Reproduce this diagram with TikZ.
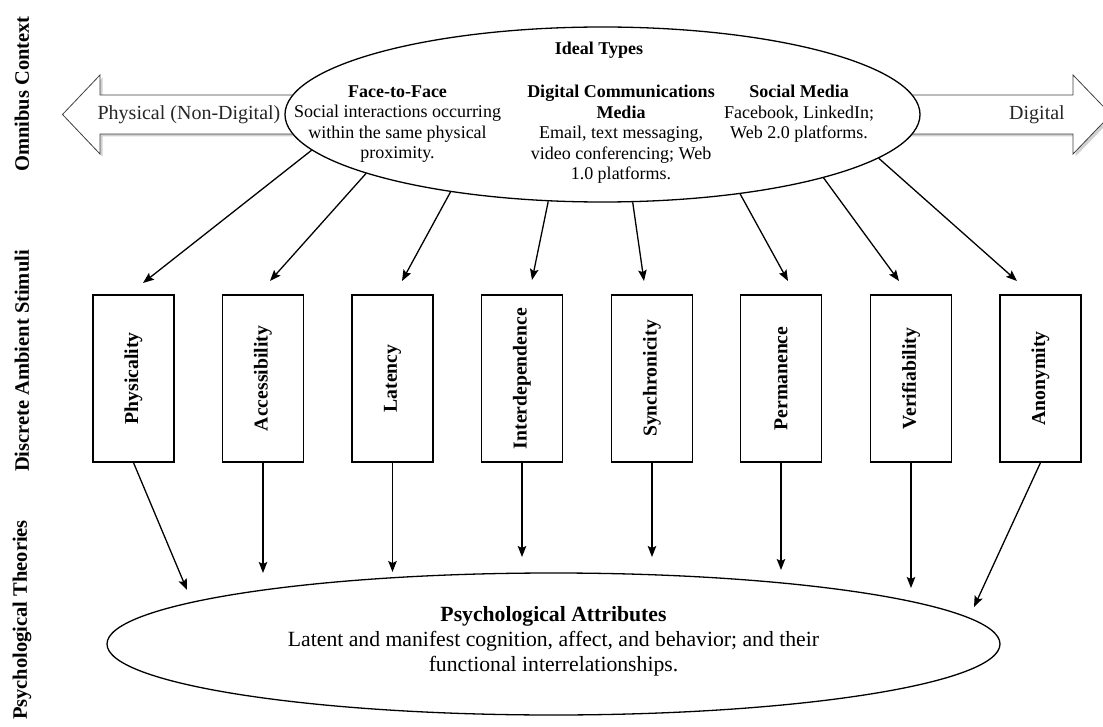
\documentclass[tikz,border=0pt]{standalone}
\usepackage{fontspec}
\setmainfont{Liberation Serif}
\usetikzlibrary{shapes.geometric,arrows.meta,shadows}
\begin{document}
\begin{tikzpicture}[x=1pt,y=-1pt,
  blockarrow/.style={draw=black!75, line width=0.8pt, fill=white,
    drop shadow={shadow xshift=2.5pt, shadow yshift=-2.5pt, fill=black!30, opacity=0.6}},
  ovalnode/.style={ellipse, draw, line width=1.3pt, fill=white, inner sep=0pt},
  toptext/.style={font=\fontsize{18}{20.5}\selectfont, align=center, inner sep=0pt},
  bottext/.style={font=\fontsize{21.7}{25}\selectfont, align=center, inner sep=0pt},
  arrowtext/.style={font=\fontsize{20}{22}\selectfont, text=black!85, inner sep=0pt},
  stimbox/.style={draw, line width=1.3pt, fill=white, minimum width=81pt, minimum height=167pt,
    inner sep=0pt, font=\fontsize{19.7}{22}\selectfont\bfseries},
  sidelabel/.style={rotate=90, font=\fontsize{20.5}{22}\selectfont\bfseries, inner sep=0pt},
  arr/.style={line width=1.3pt, -{Stealth[length=11pt,width=8.5pt,inset=2pt]}}
]
\useasboundingbox (0,0) rectangle (1103,727);
\clip (0,0) rectangle (1103,727);

% side labels
\node[sidelabel] (lblctx) at (22,94) {Omnibus Context};
\node[sidelabel] (lblstim) at (22,361) {Discrete Ambient Stimuli};
\node[sidelabel] (lblpsy) at (22,620) {Psychological Theories};

% block arrows
\path[blockarrow] (100,95) -- (420,95) -- (420,134) -- (100,134) -- (100,154) -- (62.5,114.5) -- (100,75) -- cycle;
\path[blockarrow] (780,95) -- (1073,95) -- (1073,75) -- (1111,114.5) -- (1073,154) -- (1073,134) -- (780,134) -- cycle;
\node[arrowtext] (phys) at (189,115) {Physical (Non-Digital)};
\node[arrowtext] (digi) at (1037,115) {Digital};

% top ellipse
\node[ovalnode, minimum width=635pt, minimum height=175pt] (ideal) at (602.5,114.5) {};
\node[toptext, font=\fontsize{18}{20.5}\selectfont\bfseries] (idealt) at (599,50) {Ideal Types};
\node[toptext] (f2f) at (397.5,124) {\textbf{Face-to-Face}\\Social interactions occurring\\within the same physical\\proximity.};
\node[toptext] (dcm) at (621,134.5) {\textbf{Digital Communications}\\\textbf{Media}\\Email, text messaging,\\video conferencing; Web\\1.0 platforms.};
\node[toptext] (sm) at (799,114) {\textbf{Social Media}\\Facebook, LinkedIn;\\Web 2.0 platforms.};

% stimulus boxes
\node[stimbox] (b1) at (133.5,378.5) {\rotatebox{90}{Physicality}};
\node[stimbox] (b2) at (263,378.5) {\rotatebox{90}{Accessibility}};
\node[stimbox] (b3) at (392.5,378.5) {\rotatebox{90}{Latency}};
\node[stimbox] (b4) at (522,378.5) {\rotatebox{90}{Interdependence}};
\node[stimbox] (b5) at (652,378.5) {\rotatebox{90}{Synchronicity}};
\node[stimbox] (b6) at (781,378.5) {\rotatebox{90}{Permanence}};
\node[stimbox] (b7) at (911,378.5) {\rotatebox{90}{Verifiability}};
\node[stimbox] (b8) at (1040.5,378.5) {\rotatebox{90}{Anonymity}};

% bottom ellipse
\node[ovalnode, minimum width=893pt, minimum height=142pt] (psych) at (553.5,644) {};
\node[bottext] (psycht) at (553.5,641) {\textbf{Psychological Attributes}\\Latent and manifest cognition, affect, and behavior; and their\\functional interrelationships.};

% arrow end points above boxes
\coordinate (t1) at (143,283);
\coordinate (t2) at (270,281);
\coordinate (t3) at (402,281);
\coordinate (t4) at (532,280);
\coordinate (t5) at (644,281);
\coordinate (t6) at (788,281);
\coordinate (t7) at (899,281);
\coordinate (t8) at (1017,281);

\draw[arr] (ideal.187.1) -- (t1);
\draw[arr] (ideal.194.9) -- (t2);
\draw[arr] (ideal.207.5) -- (t3);
\draw[arr] (ideal.238.9) -- (t4);
\draw[arr] (ideal.289.0) -- (t5);
\draw[arr] (ideal.330.2) -- (t6);
\draw[arr] (ideal.344.5) -- (t7);
\draw[arr] (ideal.351.9) -- (t8);

% arrow end points at bottom ellipse
\coordinate (p1) at (187,590);
\coordinate (p2) at (263,573);
\coordinate (p3) at (392.5,572);
\coordinate (p4) at (522,557);
\coordinate (p5) at (652,557);
\coordinate (p6) at (781,570);
\coordinate (p7) at (911,588);
\coordinate (p8) at (974,607);

\draw[arr] (b1.south) -- (p1);
\draw[arr] (b2.south) -- (p2);
\draw[arr] (b3.south) -- (p3);
\draw[arr] (b4.south) -- (p4);
\draw[arr] (b5.south) -- (p5);
\draw[arr] (b6.south) -- (p6);
\draw[arr] (b7.south) -- (p7);
\draw[arr] (b8.south) -- (p8);
\end{tikzpicture}
\end{document}
